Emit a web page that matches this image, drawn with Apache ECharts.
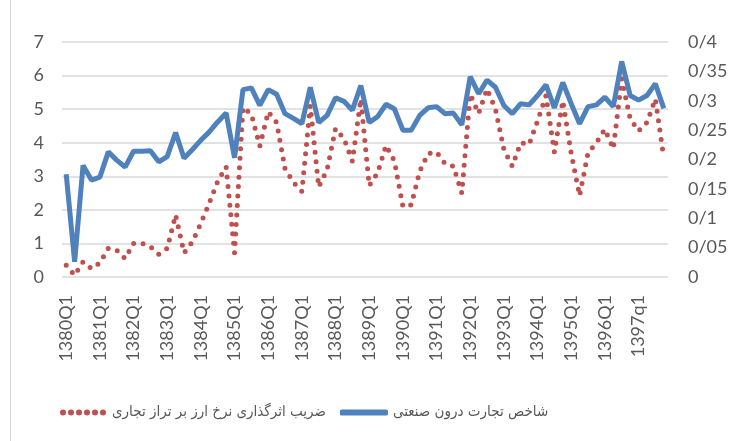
<!DOCTYPE html>
<html>
<head>
<meta charset="utf-8">
<script src="https://cdn.jsdelivr.net/npm/echarts@6/dist/echarts.min.js"></script>
<style>
html,body{margin:0;padding:0;background:#fff;}
#chart{width:738px;height:441px;}
</style>
</head>
<body>
<div id="chart"></div>
<script>
// سال ها و برچسب فصل ها
var years = [1380,1381,1382,1383,1384,1385,1386,1387,1388,1389,1390,1391,1392,1393,1394,1395,1396,1397];
var quarters = ['1','2','3','4'];

var redName = 'ضریب اثرگذاری نرخ ارز بر تراز تجاری';
var blueName = 'شاخص تجارت درون صنعتی';

// ضریب اثرگذاری (محور چپ)
var coefValues = [0.35,0.05,0.45,0.25,0.42,0.85,0.8,0.55,1.0,1.0,0.9,0.68,0.85,1.85,0.72,1.05,1.6,2.2,2.85,3.28,
	0.72,5.05,4.85,3.9,4.92,4.6,3.22,2.82,2.55,5.1,2.68,3.2,4.42,4.12,3.45,5.3,2.72,3.1,3.92,3.45,
	2.1,2.15,3.15,3.68,3.72,3.38,3.3,2.5,5.45,4.87,5.6,5.0,3.8,3.3,4.0,3.95,4.65,5.4,3.72,5.25,
	3.68,2.42,3.7,4.0,4.4,3.82,5.9,4.72,4.35,4.6,5.3,3.55];

// شاخص تجارت درون صنعتی (محور راست)
var indexValues = [0.175,0.026,0.19,0.165,0.17,0.213,0.199,0.187,0.214,0.214,0.215,0.196,0.205,0.246,0.202,0.217,0.233,0.247,0.264,0.279,
	0.203,0.319,0.322,0.292,0.319,0.311,0.278,0.27,0.261,0.323,0.263,0.275,0.305,0.299,0.284,0.326,0.263,0.273,0.294,0.286,
	0.25,0.25,0.275,0.288,0.29,0.278,0.279,0.259,0.341,0.312,0.335,0.323,0.292,0.278,0.295,0.293,0.309,0.327,0.288,0.331,
	0.295,0.261,0.29,0.293,0.306,0.29,0.367,0.309,0.301,0.309,0.329,0.287];

var categories = [];
for(var i=0;i<years.length;i++){
	for(var j=0;j<quarters.length;j++){
		categories.push(years[i] + (years[i]==1397 ? 'q' : 'Q') + quarters[j]);
	}
}

var dotsIcon = 'path://M0,3a3,3 0 1,0 6,0a3,3 0 1,0 -6,0M8,3a3,3 0 1,0 6,0a3,3 0 1,0 -6,0M16,3a3,3 0 1,0 6,0a3,3 0 1,0 -6,0M24,3a3,3 0 1,0 6,0a3,3 0 1,0 -6,0M32,3a3,3 0 1,0 6,0a3,3 0 1,0 -6,0M40,3a3,3 0 1,0 6,0a3,3 0 1,0 -6,0';

var myChart = echarts.init(document.getElementById('chart'));
var option = {
	animation: false,
	backgroundColor: '#fff',
	textStyle: { fontFamily: 'Lato' },
	grid: { left: 62, right: 70, top: 42, bottom: 164 },
	legend: {
		left: 55,
		top: 400,
		itemWidth: 48,
		itemHeight: 6,
		itemGap: 14,
		textStyle: { fontFamily: '"DejaVu Sans Condensed", "DejaVu Sans"', fontSize: 15, color: '#595959' },
		data: [
			{ name: redName, icon: dotsIcon },
			{ name: blueName, icon: 'roundRect' }
		]
	},
	xAxis: {
		type: 'category',
		data: categories,
		boundaryGap: true,
		axisLine: { show: false },
		axisTick: { show: false },
		axisLabel: { interval: 3, rotate: 90, margin: 18, fontSize: 18, color: '#595959' },
		splitLine: { show: false }
	},
	yAxis: [
		{
			type: 'value',
			min: 0, max: 7, interval: 1,
			axisLine: { show: false },
			axisTick: { show: false },
			axisLabel: { fontSize: 18, color: '#595959', margin: 18 },
			splitLine: { lineStyle: { color: '#d9d9d9', width: 1.5 } }
		},
		{
			type: 'value',
			min: 0, max: 0.4, interval: 0.05,
			axisLine: { show: false },
			axisTick: { show: false },
			axisLabel: {
				fontSize: 18, color: '#595959', margin: 20,
				formatter: function(v){
					if(v==0) return '0';
					return String(+v.toFixed(2)).replace('.', '/');
				}
			},
			splitLine: { show: false }
		}
	],
	series: [
		{
			name: redName,
			type: 'line',
			yAxisIndex: 0,
			data: coefValues,
			showSymbol: false,
			color: '#C0504D',
			lineStyle: { color: '#C0504D', width: 5, type: [0, 9.5], cap: 'round' }
		},
		{
			name: blueName,
			type: 'line',
			yAxisIndex: 1,
			data: indexValues,
			showSymbol: false,
			color: '#4F81BD',
			lineStyle: { color: '#4F81BD', width: 5 }
		}
	],
	graphic: [
		{ type: 'line', shape: { x1: 10.5, y1: 0, x2: 10.5, y2: 441 }, style: { stroke: '#d9d9d9', lineWidth: 1 } }
	]
};
myChart.setOption(option);
</script>
</body>
</html>
